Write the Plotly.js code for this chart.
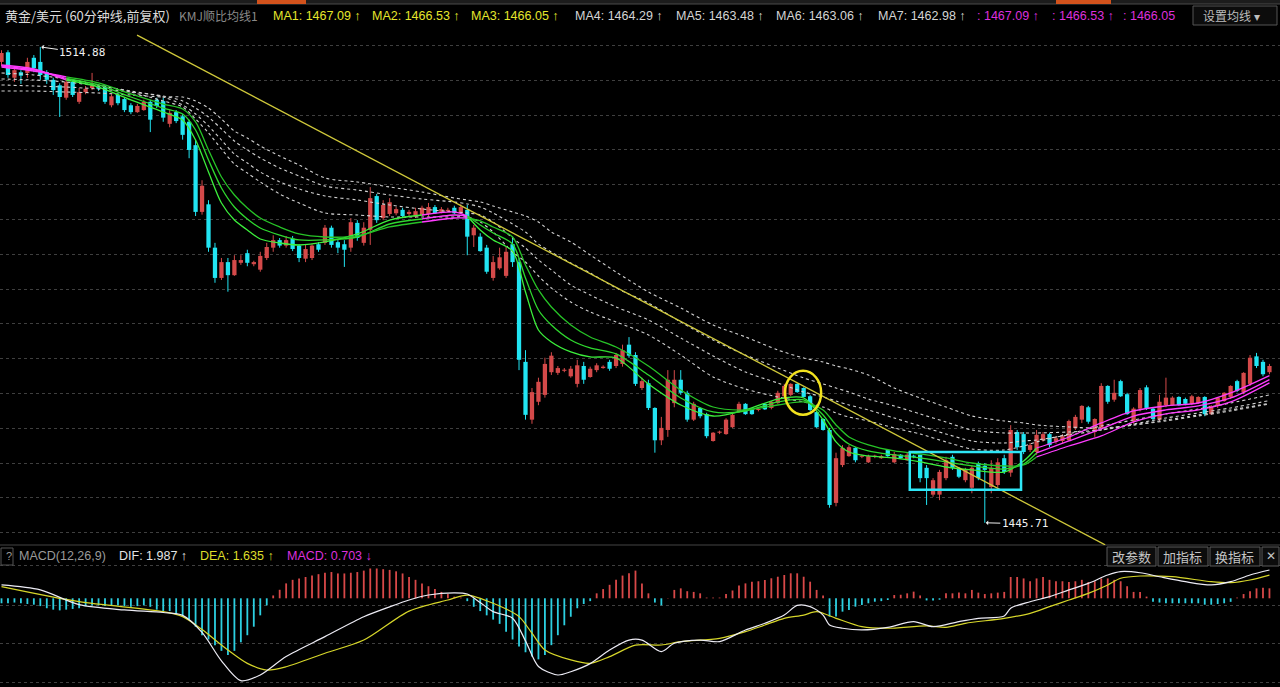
<!DOCTYPE html>
<html><head><meta charset="utf-8">
<script src="https://cdn.plot.ly/plotly-3.0.1.min.js"></script>
<style>html,body{margin:0;padding:0;background:#000;}#chart{width:1280px;height:687px;}</style>
</head><body><div id="chart"></div>
<script>
// ---------- candle data (60-minute bars, XAU/USD) ----------
const open = [1512.7,1514.1,1510.4,1511.2,1511.1,1513.3,1512.7,1511.2,1510.1,1509.3,1507.5,1509.8,1506.9,1508.3,1508.9,1509.1,1509.1,1506.4,1507.9,1507.3,1506.4,1505.4,1505.7,1506.9,1507.2,1507.0,1503.7,1505.4,1504.8,1504.0,1500.6,1490.9,1492.0,1485.7,1481.3,1483.6,1481.7,1483.5,1484.9,1483.3,1482.5,1484.2,1485.7,1486.8,1486.0,1487.0,1486.0,1484.1,1484.2,1486.2,1486.4,1488.6,1486.5,1486.2,1485.7,1489.3,1486.4,1488.3,1493.2,1490.0,1490.6,1490.7,1491.2,1490.6,1490.2,1490.4,1490.6,1491.6,1490.9,1491.0,1491.5,1490.7,1491.2,1487.5,1487.3,1485.7,1481.3,1482.7,1481.6,1486.2,1483.6,1469.1,1460.7,1463.3,1464.3,1467.6,1467.5,1467.8,1467.0,1465.9,1468.5,1466.9,1467.9,1468.2,1469.1,1468.5,1468.8,1471.6,1470.1,1465.3,1466.0,1462.4,1457.7,1459.2,1463.1,1466.5,1464.6,1460.7,1462.4,1461.5,1457.6,1458.8,1458.6,1459.6,1461.8,1463.0,1462.2,1462.1,1463.0,1462.4,1463.1,1464.1,1464.3,1465.9,1465.3,1464.1,1461.8,1460.8,1459.2,1448.6,1454.1,1455.4,1456.6,1455.3,1454.5,1455.3,1455.1,1456.3,1454.5,1455.6,1454.8,1455.4,1455.6,1453.7,1449.8,1449.8,1452.2,1455.3,1453.7,1451.9,1450.8,1454.4,1454.0,1450.9,1451.2,1455.1,1453.0,1458.9,1458.6,1456.3,1456.0,1457.7,1458.6,1457.5,1457.6,1457.7,1459.5,1460.7,1462.5,1458.9,1459.5,1465.6,1463.6,1466.3,1464.4,1460.4,1462.3,1465.4,1462.3,1460.7,1462.8,1462.8,1464.0,1463.7,1463.0,1463.1,1464.0,1461.5,1462.7,1463.4,1464.0,1466.3,1464.7,1465.9,1469.9,1469.1,1467.6];
const high = [1514.4,1514.4,1511.8,1511.5,1513.3,1513.7,1514.88,1511.5,1510.4,1509.6,1510.4,1510.1,1508.9,1509.2,1511.1,1509.2,1509.3,1508.0,1508.2,1507.6,1506.7,1506.6,1507.2,1507.2,1507.5,1507.5,1505.7,1505.7,1505.1,1504.3,1501.4,1495.5,1492.6,1486.4,1484.2,1484.2,1484.6,1484.6,1485.4,1483.8,1485.1,1486.4,1487.5,1487.1,1487.4,1487.4,1486.2,1486.1,1486.2,1486.5,1489.0,1488.9,1486.8,1486.8,1490.0,1489.7,1489.4,1494.5,1493.5,1492.6,1492.9,1491.6,1491.5,1491.2,1491.5,1491.8,1492.2,1491.9,1491.6,1491.5,1491.8,1492.0,1491.9,1489.0,1487.8,1486.1,1484.5,1485.7,1485.8,1487.3,1484.2,1470.8,1465.3,1466.8,1469.7,1470.5,1468.5,1468.2,1468.5,1469.4,1469.1,1468.4,1468.9,1468.6,1469.4,1470.4,1471.6,1472.7,1470.5,1466.8,1466.5,1462.5,1461.1,1467.9,1467.9,1467.9,1464.9,1463.3,1462.5,1461.7,1458.9,1459.1,1460.9,1461.7,1463.3,1463.1,1462.4,1462.4,1463.1,1463.4,1464.9,1465.9,1466.0,1466.0,1465.4,1464.3,1461.9,1460.9,1459.5,1455.9,1457.0,1457.0,1456.7,1455.6,1455.6,1455.6,1455.6,1456.3,1456.0,1455.7,1455.9,1455.6,1455.6,1454.1,1452.2,1453.4,1455.3,1455.6,1453.8,1453.7,1454.1,1454.6,1454.4,1454.8,1455.1,1455.6,1459.9,1459.2,1458.9,1457.3,1459.2,1458.9,1458.8,1458.3,1458.6,1460.7,1461.4,1462.8,1462.7,1460.9,1466.0,1465.7,1466.5,1466.5,1464.6,1462.5,1465.3,1465.7,1462.5,1464.3,1466.8,1464.1,1464.1,1463.9,1464.3,1464.1,1464.1,1462.8,1464.0,1464.7,1465.7,1466.5,1467.6,1470.1,1470.4,1469.4,1468.8];
const low = [1512.1,1510.4,1509.8,1509.5,1510.4,1511.2,1510.1,1509.5,1507.9,1504.7,1507.2,1507.6,1506.6,1508.0,1508.6,1508.5,1506.6,1506.1,1506.4,1505.4,1505.1,1505.3,1505.6,1502.5,1506.0,1504.0,1503.2,1503.8,1501.4,1498.7,1490.3,1490.5,1485.1,1480.6,1481.0,1479.3,1481.6,1483.2,1483.0,1483.0,1482.2,1483.9,1485.1,1485.7,1485.7,1485.2,1483.6,1483.6,1483.9,1485.1,1486.1,1485.7,1484.9,1482.9,1485.1,1486.7,1486.0,1486.1,1489.3,1489.7,1490.3,1490.4,1490.0,1490.3,1490.0,1490.3,1490.2,1490.6,1490.7,1490.9,1490.6,1490.6,1484.6,1485.8,1485.1,1481.9,1480.9,1482.5,1481.3,1482.9,1467.9,1460.7,1460.1,1462.8,1463.9,1467.2,1467.2,1467.6,1466.8,1465.4,1465.9,1466.8,1467.6,1468.1,1467.8,1468.2,1468.4,1469.7,1465.6,1465.0,1462.1,1455.9,1457.0,1458.2,1462.5,1464.3,1460.4,1460.5,1460.9,1458.0,1457.5,1458.6,1458.5,1459.5,1461.7,1461.4,1461.4,1461.9,1462.1,1462.2,1463.0,1463.9,1464.1,1464.6,1463.9,1461.9,1459.5,1459.1,1447.9,1448.1,1453.8,1455.3,1454.5,1455.1,1454.4,1455.1,1455.0,1455.3,1454.4,1455.0,1454.7,1455.1,1451.6,1448.3,1449.5,1449.0,1451.9,1453.4,1452.2,1451.6,1450.0,1451.9,1445.71,1450.0,1450.8,1452.8,1452.4,1456.3,1455.7,1456.0,1455.6,1457.5,1456.7,1457.2,1457.3,1457.6,1459.2,1460.2,1460.1,1458.2,1459.2,1463.0,1463.3,1464.0,1461.4,1460.1,1461.9,1462.1,1460.5,1460.4,1462.5,1462.7,1462.7,1462.8,1462.8,1463.0,1461.2,1461.4,1462.4,1463.3,1463.7,1464.7,1464.4,1465.6,1468.2,1467.0,1467.3];
const close = [1514.0,1510.8,1511.5,1510.7,1512.7,1511.8,1510.8,1510.1,1508.6,1507.6,1509.8,1507.9,1508.3,1508.8,1509.3,1508.8,1506.9,1507.7,1506.7,1505.7,1505.4,1506.3,1506.9,1504.3,1506.3,1504.6,1505.3,1504.1,1502.1,1499.9,1490.9,1494.7,1485.7,1481.3,1483.6,1481.7,1483.9,1483.9,1483.5,1483.6,1484.5,1485.8,1486.8,1486.0,1486.8,1485.5,1484.2,1485.5,1486.0,1485.4,1488.6,1486.1,1485.7,1485.4,1489.4,1487.1,1488.6,1492.9,1489.7,1491.9,1492.3,1491.3,1490.3,1490.9,1491.0,1491.5,1491.6,1490.7,1491.3,1491.2,1490.7,1491.6,1487.3,1488.6,1485.2,1482.2,1483.6,1484.3,1485.1,1483.6,1469.4,1461.4,1464.7,1466.2,1468.8,1470.0,1468.2,1467.9,1468.1,1468.6,1466.5,1468.1,1468.6,1468.4,1468.1,1470.1,1470.8,1470.0,1465.9,1466.3,1462.4,1457.7,1459.5,1466.5,1466.5,1464.6,1460.7,1463.0,1461.2,1458.3,1458.8,1458.9,1460.7,1461.4,1463.0,1461.5,1461.5,1462.2,1462.2,1463.3,1464.6,1465.6,1465.9,1464.7,1464.0,1462.1,1459.6,1459.2,1448.3,1455.1,1456.6,1456.7,1454.8,1455.4,1455.4,1455.4,1455.4,1455.4,1455.7,1455.1,1455.6,1455.3,1452.2,1452.2,1451.9,1453.1,1454.8,1453.7,1452.4,1453.4,1453.7,1452.2,1453.4,1453.7,1454.5,1453.1,1459.2,1456.7,1456.0,1457.0,1458.5,1458.6,1457.0,1458.0,1458.3,1460.5,1461.1,1462.7,1460.4,1460.8,1465.6,1463.3,1464.6,1464.1,1461.5,1462.3,1465.0,1462.4,1460.8,1463.3,1463.9,1463.9,1462.8,1463.0,1464.1,1464.0,1461.5,1462.7,1463.9,1464.6,1465.6,1464.9,1467.5,1469.7,1468.5,1467.3,1468.5];

// ---------- moving averages, read at these bar indices ----------
const maIdx = [0,5,10,15,20,25,28,30,32,34,36,38,40,43,46,50,55,60,65,70,72,74,76,79,81,83,85,88,91,95,100,105,110,115,120,124,127,129,131,134,138,142,146,150,155,158,160,165,170,175,180,185,190,196];
const ma1 = [1512.25,1511.67,1510.07,1509.05,1507.17,1505.42,1504.26,1501.35,1496.70,1492.19,1489.72,1488.27,1486.96,1486.38,1486.09,1486.53,1487.69,1489.72,1490.45,1490.89,1490.30,1488.27,1486.82,1485.22,1479.26,1473.73,1471.99,1470.54,1469.81,1469.66,1465.89,1462.83,1461.23,1462.11,1463.70,1463.85,1460.65,1457.46,1456.00,1455.42,1455.13,1454.55,1453.82,1453.39,1453.09,1454.69,1456.58,1458.18,1460.22,1461.96,1462.69,1463.12,1464.58,1467.09];
const ma2 = [1512.11,1511.53,1510.29,1509.35,1507.60,1506.00,1505.13,1502.80,1498.44,1494.37,1491.61,1489.87,1488.56,1487.54,1486.82,1486.82,1487.25,1489.14,1489.87,1490.45,1490.30,1489.00,1487.83,1486.23,1481.29,1476.64,1474.46,1472.28,1471.12,1470.25,1467.19,1463.85,1461.82,1461.96,1463.27,1463.56,1461.38,1458.76,1457.16,1456.15,1455.57,1455.13,1454.55,1453.97,1453.53,1454.26,1455.86,1457.60,1459.35,1461.23,1462.11,1462.69,1463.85,1466.53];
const ma3 = [1511.96,1511.38,1510.51,1509.64,1508.04,1506.58,1505.86,1503.97,1499.90,1495.97,1493.36,1491.47,1490.01,1488.71,1487.69,1487.25,1487.40,1488.71,1489.43,1490.01,1490.01,1489.58,1488.71,1487.25,1483.18,1479.55,1477.08,1474.46,1472.72,1471.26,1468.50,1465.01,1462.54,1462.11,1462.83,1463.27,1462.11,1459.93,1458.18,1457.02,1456.15,1455.71,1455.13,1454.40,1453.97,1454.11,1455.28,1456.87,1458.33,1460.36,1461.53,1462.11,1463.27,1466.05];
const ma4 = [1511.09,1510.80,1510.22,1509.35,1508.33,1507.02,1506.15,1504.40,1502.37,1500.04,1497.86,1496.55,1495.25,1493.50,1492.19,1490.74,1490.45,1490.16,1490.16,1490.16,1490.16,1489.43,1487.98,1485.07,1483.62,1481.58,1479.84,1477.80,1476.35,1474.90,1473.01,1470.10,1466.90,1465.16,1464.00,1463.27,1462.54,1461.67,1461.09,1460.51,1459.49,1458.62,1457.46,1456.44,1456.29,1456.87,1457.46,1458.62,1459.78,1460.65,1461.53,1462.25,1463.12,1464.29];
const ma5 = [1510.22,1510.07,1509.78,1509.20,1508.47,1507.60,1506.44,1505.13,1503.39,1501.35,1499.32,1498.01,1496.70,1495.25,1494.23,1493.21,1492.63,1491.90,1491.32,1490.89,1490.74,1490.45,1489.43,1487.11,1485.65,1483.91,1482.46,1480.28,1478.82,1477.08,1475.19,1472.57,1469.96,1467.63,1466.03,1464.72,1464.00,1463.41,1462.83,1462.11,1460.94,1459.78,1458.62,1457.60,1457.31,1457.60,1457.75,1458.47,1459.20,1460.07,1460.94,1461.67,1462.40,1463.48];
const ma6 = [1509.35,1509.20,1509.05,1508.76,1508.33,1507.75,1507.02,1506.00,1504.69,1502.95,1501.21,1499.90,1498.73,1497.28,1496.12,1494.66,1494.08,1493.36,1492.77,1492.34,1492.05,1491.61,1490.74,1489.14,1487.98,1486.23,1485.07,1483.47,1482.02,1479.84,1477.66,1474.90,1472.28,1470.10,1468.21,1466.76,1465.89,1465.30,1464.72,1463.70,1462.69,1461.53,1460.36,1459.20,1458.76,1458.76,1458.76,1458.91,1459.20,1459.93,1460.65,1461.38,1462.11,1463.06];
const ma7 = [1508.47,1508.47,1508.33,1508.18,1507.89,1507.60,1507.60,1507.02,1506.00,1504.40,1502.66,1501.64,1500.48,1499.03,1497.72,1495.83,1495.25,1494.52,1493.79,1492.92,1492.63,1492.34,1491.76,1490.89,1490.30,1489.43,1487.98,1486.53,1484.64,1482.16,1479.26,1476.93,1474.46,1472.72,1470.83,1469.66,1469.08,1468.50,1468.07,1467.19,1465.30,1463.85,1462.54,1461.23,1460.51,1460.22,1459.93,1459.64,1459.49,1459.93,1460.51,1461.23,1461.96,1462.98];
// bar-index ranges where MA1-3 are drawn magenta
const magentaRanges = [[0,10],[65,72],[160,196]];

// ---------- MACD(12,26,9) ----------
const macdHist = [-0.35,-0.35,-0.3,-0.35,-0.4,-0.45,-0.55,-0.7,-0.8,-0.85,
 -0.8,-0.75,-0.7,-0.55,-0.5,-0.5,-0.55,-0.5,-0.5,-0.55,
 -0.6,-0.55,-0.5,-0.6,-0.8,-0.9,-0.9,-1.1,-1.3,-1.5,
 -2.0,-2.6,-2.9,-3.3,-3.7,-4.0,-3.7,-3.1,-2.6,-2.0,
 -1.2,-0.5,0.2,0.6,1.05,1.3,1.4,1.5,1.6,1.7,
 1.8,1.85,1.75,1.75,1.8,1.85,1.95,2.1,2.1,2.05,
 2.0,1.9,1.75,1.5,1.3,1.05,0.85,0.65,0.45,0.3,
 0.12,0.05,-0.2,-0.6,-0.9,-1.2,-1.5,-1.8,-2.35,-2.9,
 -3.4,-3.8,-4.1,-4.3,-4.0,-3.3,-2.6,-1.9,-1.3,-0.7,
 -0.4,-0.2,0.35,0.65,0.95,1.3,1.6,1.76,1.95,1.05,
 0.35,-0.3,-0.5,0.02,0.59,0.7,0.5,0.45,0.35,0.05,
 0.05,0.05,0.3,0.55,0.9,1.05,1.17,1.2,1.29,1.41,
 1.52,1.64,1.76,1.76,1.52,1.17,0.59,0.2,-1.29,-1.29,
 -0.94,-0.82,-0.59,-0.47,-0.35,-0.24,-0.2,-0.12,0.23,0.25,
 0.35,0.47,0.2,-0.15,-0.15,-0.1,0.35,0.35,0.4,0.35,
 0.59,0.4,0.3,0.35,0.4,0.45,1.5,1.5,1.4,1.2,
 1.4,1.5,1.3,1.2,1.2,1.15,1.2,1.3,1.15,1.2,
 1.4,1.4,1.3,1.2,0.85,0.45,0.45,0.12,-0.25,-0.3,
 -0.35,-0.35,-0.35,-0.35,-0.35,-0.35,-0.45,-0.45,-0.4,-0.35,
 -0.25,0.05,0.3,0.5,0.7,0.75,0.703];
const difIdx = [0,6,12,19,25,28,31,34,37,40,44,50,56,60,63,66,70,72,74,76,79,81,83,86,88,91,94,97,99,102,104,108,111,115,118,121,123,125,127,128,130,133,137,141,144,148,151,155,156,159,162,165,168,171,173,176,179,183,187,190,193,196];
const difVal = [0.94,0.59,-0.45,-0.82,-1.0,-1.2,-2.4,-4.4,-5.8,-5.4,-4.1,-2.7,-1.3,-0.6,-0.12,0.23,0.38,0.3,-0.3,-0.94,-1.4,-3.0,-4.8,-5.4,-5.17,-4.6,-3.64,-2.94,-2.94,-3.75,-3.17,-2.94,-3.05,-2.23,-1.76,-1.18,-0.5,-0.59,-1.18,-1.88,-2.11,-2.23,-2.05,-1.64,-2.0,-1.64,-1.41,-1.24,-0.7,-0.24,0.12,0.59,1.05,1.64,1.88,1.8,1.52,1.17,0.94,1.17,1.64,1.99];
const deaIdx = [0,12,25,28,31,35,38,41,44,50,56,63,69,72,76,80,82,84,88,91,94,98,102,105,111,115,118,121,124,126,129,133,137,143,146,149,155,159,162,165,168,171,173,176,181,187,190,193,196];
const deaVal = [0.82,-0.24,-0.94,-1.29,-2.2,-3.64,-4.58,-5.05,-4.82,-3.87,-2.94,-0.9,-0.12,0.23,-0.35,-1.29,-2.46,-3.64,-4.34,-4.58,-4.11,-3.3,-3.29,-3.05,-2.82,-2.35,-1.88,-1.41,-1.18,-0.94,-1.41,-2.0,-2.11,-1.94,-2.05,-1.76,-1.41,-1.06,-0.59,-0.12,0.35,0.94,1.41,1.57,1.52,1.17,1.1,1.29,1.635];

// ---------- annotations on the chart ----------
const highMark = {i: 6, price: 1514.88, label: '1514.88'};
const lowMark = {i: 152, price: 1445.71, label: '1445.71'};
const trendIdx = [20.95, 170.6];
const trendPrice = [1516.6, 1442.5];
const circleIdx = [121.1, 126.7], circlePrice = [1461.4, 1467.8];
const boxIdx = [140.4, 157.6], boxPrice = [1450.5, 1456.0];

// ---------- build traces ----------
const RED = '#d44a4a', CYAN = '#22e4f2';
const N = open.length;
const upX=[],upB=[],upH=[],dnX=[],dnB=[],dnH=[],wuX=[],wuY=[],wdX=[],wdY=[];
for (let i=0;i<N;i++){
  const o=open[i], c=close[i];
  const b=Math.min(o,c), h=Math.max(Math.abs(c-o),0.16);
  if (c>=o){ upX.push(i);upB.push(b);upH.push(h); wuX.push(i,i,null); wuY.push(low[i],high[i],null); }
  else { dnX.push(i);dnB.push(b);dnH.push(h); wdX.push(i,i,null); wdY.push(low[i],high[i],null); }
}
const traces = [];
traces.push({type:'scatter',mode:'lines',x:wuX,y:wuY,line:{color:RED,width:1},hoverinfo:'skip'});
traces.push({type:'scatter',mode:'lines',x:wdX,y:wdY,line:{color:CYAN,width:1},hoverinfo:'skip'});
traces.push({type:'bar',x:upX,y:upH,base:upB,width:0.66,marker:{color:RED,line:{width:0}},hoverinfo:'skip'});
traces.push({type:'bar',x:dnX,y:dnH,base:dnB,width:0.66,marker:{color:CYAN,line:{width:0}},hoverinfo:'skip'});

[ma4,ma5,ma6,ma7].forEach(m=>traces.push({type:'scatter',mode:'lines',x:maIdx,y:m,
  line:{color:'#d2d2d2',width:1.1,dash:'3px,3px',shape:'spline',smoothing:0.8},hoverinfo:'skip'}));

function inRange(i, strict){
  return magentaRanges.some(r => strict ? (i>r[0] && i<r[1]) : (i>=r[0] && i<=r[1]));
}
[ma1,ma2,ma3].forEach((m,k)=>{
  const g = m.map((v,j)=> inRange(maIdx[j],true) || (maIdx[j]===0) ? null : v);
  const p = m.map((v,j)=> inRange(maIdx[j],false) ? v : null);
  traces.push({type:'scatter',mode:'lines',x:maIdx,y:g,connectgaps:false,
    line:{color:['#3cf03c','#2fd82f','#27c427'][k],width:1.3,shape:'spline',smoothing:0.8},hoverinfo:'skip'});
  traces.push({type:'scatter',mode:'lines',x:maIdx,y:p,connectgaps:false,
    line:{color:'#ff3cff',width:1.3,shape:'spline',smoothing:0.8},hoverinfo:'skip'});
});

// MACD panel
const histIdx = macdHist.map((_,i)=>i);
traces.push({type:'bar',x:histIdx,y:macdHist,width:0.28,xaxis:'x',yaxis:'y2',
  marker:{color:macdHist.map(v=>v>=0?'#d84848':'#2ccfe0'),line:{width:0}},hoverinfo:'skip'});
traces.push({type:'scatter',mode:'lines',x:deaIdx,y:deaVal,xaxis:'x',yaxis:'y2',
  line:{color:'#d6d62a',width:1.2,shape:'spline',smoothing:0.8},hoverinfo:'skip'});
traces.push({type:'scatter',mode:'lines',x:difIdx,y:difVal,xaxis:'x',yaxis:'y2',
  line:{color:'#ecebf4',width:1.2,shape:'spline',smoothing:0.8},hoverinfo:'skip'});

// ---------- layout helpers (pixel -> paper) ----------
const W=1280,H=687;
const PX = x => x/W, PY = y => 1-y/H;
const mainTop=28, mainBot=545;
const yMainRange=[1442.48,1517.63];
const macdZeroPx=598.3, pxPerMacd=14.2;
const y2Range=[(macdZeroPx-H)/pxPerMacd,(macdZeroPx-mainBot)/pxPerMacd];
const macdGrid=[565,605,643,682].map(p=>(macdZeroPx-p)/pxPerMacd);

const ann = [];
function txt(x,y,t,color,size,family){
  ann.push({xref:'paper',yref:'paper',x:PX(x),y:PY(y),xanchor:'left',yanchor:'middle',
    text:t,showarrow:false,font:{color:color,size:size||11,family:family||'Liberation Sans, Arial, sans-serif'}});
}
const CJK='Noto Sans CJK SC, sans-serif';
txt(3,16,'黄金/美元 (60分钟线,前复权)','#dadada',13,CJK);
txt(177,16,'KMJ顺比均线1','#8a8a8a',12,CJK);
const maLabels=[['MA1: 1467.09 ↑',271,'#e6e62c'],['MA2: 1466.53 ↑',370,'#e6e62c'],['MA3: 1466.05 ↑',469,'#e6e62c'],
 ['MA4: 1464.29 ↑',573,'#d4d4d4'],['MA5: 1463.48 ↑',674,'#d4d4d4'],['MA6: 1463.06 ↑',774,'#d4d4d4'],['MA7: 1462.98 ↑',876,'#d4d4d4'],
 [': 1467.09 ↑',975,'#dc30dc'],[': 1466.53 ↑',1050,'#dc30dc'],[': 1466.05',1121,'#dc30dc']];
maLabels.forEach(l=>txt(l[1],16,l[0],l[2],12.5));
txt(1201,15,'设置均线 ▾','#bdbdbd',12,CJK);
// MACD header row
txt(4,556,'?','#9a9a9a',11);
txt(17,556,'MACD(12,26,9)','#9a9a9a',12.5);
txt(117,556,'DIF: 1.987 ↑','#e4e4e4',12.5);
txt(198,556,'DEA: 1.635 ↑','#dede2a',12.5);
txt(285,556,'MACD: 0.703 ↓','#dc30dc',12.5);
[['改参数',1110],['加指标',1161],['换指标',1213]].forEach(b=>txt(b[1],556,b[0],'#c4c4c4',13,CJK));
txt(1264,556,'✕','#c4c4c4',12,'DejaVu Sans, sans-serif');

// price markers
ann.push({xref:'x',yref:'y',x:highMark.i,y:highMark.price,text:highMark.label,showarrow:true,
  ax:42,ay:6,arrowhead:1,arrowsize:0.8,arrowwidth:1,arrowcolor:'#f0f0f0',standoff:1,
  font:{color:'#f0f0f0',size:11,family:'DejaVu Sans Mono, monospace'}});
ann.push({xref:'x',yref:'y',x:lowMark.i,y:lowMark.price,text:lowMark.label,showarrow:true,
  ax:40,ay:1,arrowhead:1,arrowsize:0.8,arrowwidth:1,arrowcolor:'#f0f0f0',standoff:1,
  font:{color:'#f0f0f0',size:11,family:'DejaVu Sans Mono, monospace'}});

const shapes = [];
// top tab strip
shapes.push({type:'rect',xref:'paper',yref:'paper',x0:0,x1:1,y0:PY(4),y1:1,fillcolor:'#1c1c1c',line:{width:0},layer:'below'});
shapes.push({type:'line',xref:'paper',yref:'paper',x0:0,x1:1,y0:PY(4),y1:PY(4),line:{color:'#4a4a4a',width:1}});
[[257,306],[1056,1111]].forEach(r=>shapes.push({type:'rect',xref:'paper',yref:'paper',x0:PX(r[0]),x1:PX(r[1]),y0:PY(4),y1:1,fillcolor:'#d2521c',line:{width:0}}));
// header button
shapes.push({type:'rect',xref:'paper',yref:'paper',x0:PX(1193),x1:PX(1277),y0:PY(25),y1:PY(6),fillcolor:'#0c0c0c',line:{color:'#555',width:1}});
// panel separator
shapes.push({type:'line',xref:'paper',yref:'paper',x0:0,x1:1,y0:PY(545),y1:PY(545),line:{color:'#444',width:1}});
// MACD buttons
shapes.push({type:'rect',xref:'paper',yref:'paper',x0:PX(1),x1:PX(13),y0:PY(565),y1:PY(548),line:{color:'#555',width:1}});
[[1107,1156],[1158,1208],[1210,1260],[1262,1279]].forEach(r=>shapes.push({type:'rect',xref:'paper',yref:'paper',
  x0:PX(r[0]),x1:PX(r[1]),y0:PY(566),y1:PY(547),fillcolor:'#0c0c0c',line:{color:'#5a5a5a',width:1}}));
// drawn annotations
shapes.push({type:'line',xref:'x',yref:'y',x0:trendIdx[0],x1:trendIdx[1],y0:trendPrice[0],y1:trendPrice[1],line:{color:'#cfc83a',width:1.3}});
shapes.push({type:'circle',xref:'x',yref:'y',x0:circleIdx[0],x1:circleIdx[1],y0:circlePrice[0],y1:circlePrice[1],line:{color:'#f2e21e',width:2.5}});
shapes.push({type:'rect',xref:'x',yref:'y',x0:boxIdx[0],x1:boxIdx[1],y0:boxPrice[0],y1:boxPrice[1],line:{color:'#2ee6f6',width:2.5}});

const layout = {
  width:W,height:H,margin:{l:0,r:0,t:0,b:0},paper_bgcolor:'#000',plot_bgcolor:'#000',
  showlegend:false,barmode:'overlay',hovermode:false,
  xaxis:{domain:[0,1],range:[-0.232,197.63],showgrid:false,zeroline:false,showticklabels:false,ticks:'',showline:false,anchor:'y2'},
  yaxis:{domain:[PY(mainBot),PY(mainTop)],range:yMainRange,tick0:1449.32,dtick:5.058,showgrid:true,
    gridcolor:'rgba(150,150,150,0.42)',griddash:'dot',gridwidth:1,zeroline:false,showticklabels:false,ticks:'',showline:false},
  yaxis2:{domain:[0,PY(mainBot)],range:y2Range,tickmode:'array',tickvals:macdGrid,showgrid:true,
    gridcolor:'rgba(150,150,150,0.42)',griddash:'dot',gridwidth:1,zeroline:false,showticklabels:false,ticks:'',showline:false},
  annotations:ann,shapes:shapes
};
Plotly.newPlot('chart',traces,layout,{staticPlot:true,displayModeBar:false});
</script></body></html>
